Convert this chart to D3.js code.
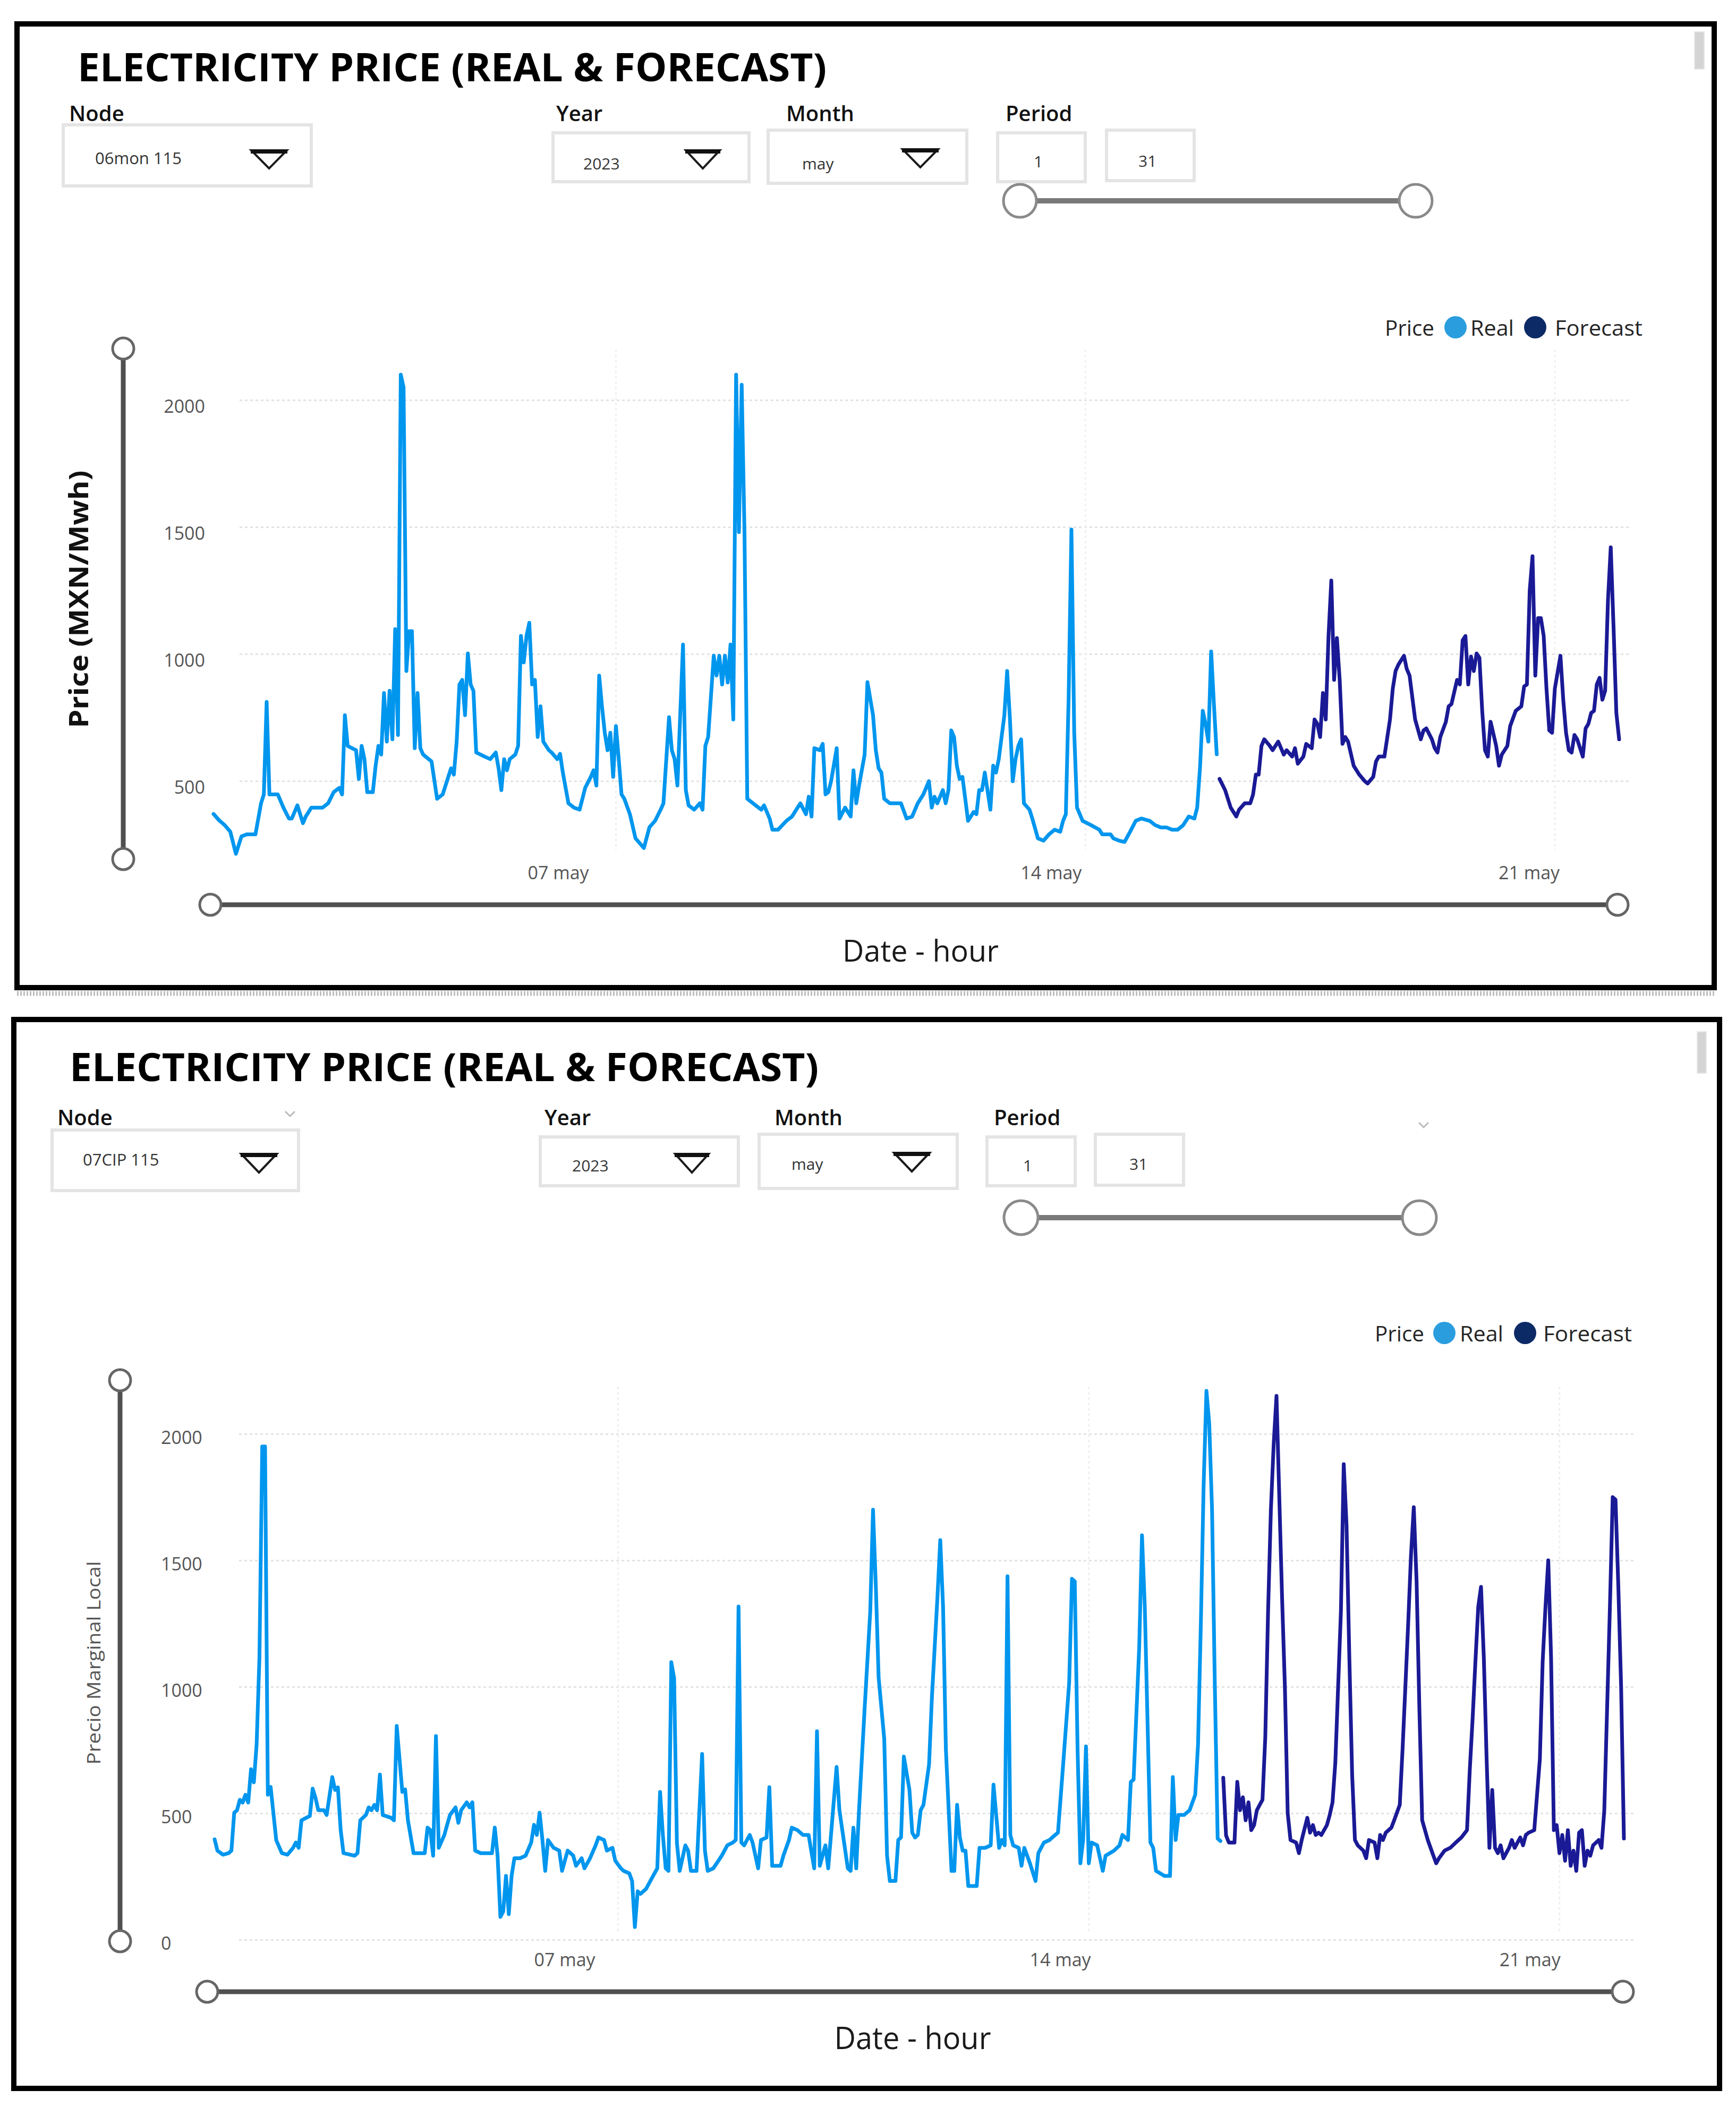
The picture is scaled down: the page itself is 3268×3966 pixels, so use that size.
<!DOCTYPE html>
<html><head><meta charset="utf-8">
<script src="https://cdn.jsdelivr.net/npm/d3@7"></script>
<style>body{margin:0;background:#fff} svg{display:block} text{font-family:"Open Sans",sans-serif}</style>
</head><body>
<svg id="c" width="3268" height="3966"></svg>
<script>
// ---------------- DATA ----------------
const chartTitle = "ELECTRICITY PRICE (REAL & FORECAST)";
const filterLabels = ["Node", "Year", "Month", "Period"];
const nodeNames = ["06mon 115", "07CIP 115"];
const yearValue = "2023";
const monthValue = "may";
const periodFrom = "1";
const periodTo = "31";
const yTicksTop = [500, 1000, 1500, 2000];
const yTicksBottom = [0, 500, 1000, 1500, 2000];
const xTickHours = [144, 312, 480];           // hours since 01 may 00:00
const xTickLabels = ["07 may", "14 may", "21 may"];
const legendLabels = ["Price", "Real", "Forecast"];
const yTitles = ["Price (MXN/Mwh)", "Precio Marginal Local"];
const xTitle = "Date - hour";

// [hour since 01 may 00:00, price MXN/MWh]
const realTop = [[0,370],[2,345],[4,326],[6,300],[8,213],[10,282],[12,290],[15,290],[17,412],[18,447],[19,811],[20,447],[23,447],[25,395],[27,352],[28,352],[30,404],[32,334],[33,360],[35,395],[39,395],[41,412],[43,456],[45,473],[46,447],[47,759],[48,638],[51,621],[52,508],[53,638],[54,586],[55,456],[57,456],[58,560],[59,638],[60,604],[61,846],[62,655],[63,855],[64,664],[65,1098],[66,681],[67,2100],[68,2050],[69,933],[70,1090],[71,1090],[72,629],[73,846],[74,629],[75,604],[78,577],[80,430],[82,447],[84,516],[85,550],[86,525],[87,655],[88,880],[89,898],[90,759],[91,1002],[92,880],[93,855],[94,612],[97,596],[99,586],[101,612],[102,550],[103,464],[104,586],[105,542],[106,586],[108,604],[109,638],[110,1071],[111,967],[112,1071],[113,1123],[114,880],[115,898],[116,673],[117,794],[118,655],[120,621],[121,612],[123,586],[124,607],[125,533],[127,412],[129,395],[131,387],[133,473],[135,516],[136,542],[137,482],[138,915],[139,794],[140,690],[141,621],[142,690],[143,516],[144,716],[145,586],[146,447],[147,430],[149,369],[151,274],[154,236],[156,318],[158,343],[160,387],[161,412],[163,751],[164,621],[165,586],[166,482],[168,1037],[169,464],[170,404],[172,387],[174,412],[175,387],[176,638],[177,673],[179,993],[180,915],[181,993],[182,880],[183,993],[184,888],[185,1037],[186,742],[187,2100],[188,1480],[189,2060],[190,1480],[191,430],[194,404],[196,387],[197,404],[199,352],[200,308],[202,308],[205,343],[207,360],[209,395],[210,412],[212,369],[213,438],[214,360],[215,629],[217,621],[218,646],[219,447],[220,456],[221,499],[223,629],[224,352],[226,395],[228,360],[229,542],[230,412],[231,482],[233,604],[234,889],[236,759],[237,621],[238,550],[239,533],[240,430],[242,412],[246,412],[248,352],[250,360],[252,412],[254,447],[256,499],[257,395],[258,438],[259,412],[261,464],[262,412],[263,464],[264,699],[265,673],[266,560],[267,508],[268,516],[269,430],[270,343],[272,378],[273,369],[274,464],[275,464],[276,533],[278,387],[279,560],[280,533],[281,586],[283,759],[284,933],[285,742],[286,499],[287,586],[288,638],[289,664],[290,412],[292,387],[293,352],[295,274],[297,265],[299,290],[301,308],[303,300],[304,343],[305,369],[306,828],[307,1490],[308,690],[309,395],[311,343],[314,326],[317,308],[318,290],[321,290],[322,274],[324,265],[326,260],[328,300],[330,343],[332,352],[335,343],[337,326],[339,317],[341,317],[343,308],[345,308],[347,326],[349,360],[351,352],[352,395],[353,550],[354,776],[355,724],[356,655],[357,1010],[358,800],[359,605]];
const forecastTop = [[360,508],[362,464],[364,395],[366,360],[367,387],[369,412],[371,412],[372,447],[373,525],[374,525],[375,638],[376,664],[378,638],[379,621],[381,655],[383,604],[384,621],[386,596],[387,629],[388,568],[390,596],[391,646],[393,629],[394,742],[395,725],[396,673],[397,846],[398,742],[399,1071],[400,1289],[401,898],[402,1063],[403,898],[404,646],[405,673],[406,655],[408,560],[410,525],[412,499],[413,490],[415,516],[416,577],[417,596],[419,596],[421,742],[422,864],[423,933],[424,958],[426,993],[427,941],[428,915],[430,742],[432,664],[433,699],[434,707],[436,664],[437,629],[438,612],[439,673],[441,733],[442,794],[443,803],[445,898],[446,880],[447,1054],[448,1071],[449,880],[450,990],[451,933],[452,1002],[453,985],[454,776],[455,621],[456,596],[457,733],[459,638],[460,560],[461,604],[463,638],[464,716],[466,776],[468,794],[469,872],[470,880],[471,1250],[472,1385],[473,915],[474,1141],[475,1141],[476,1071],[477,864],[478,699],[479,690],[480,864],[482,993],[483,820],[484,690],[485,621],[486,612],[487,681],[488,664],[490,596],[491,707],[492,725],[493,768],[494,776],[495,880],[496,906],[497,820],[498,855],[499,1211],[500,1420],[501,1106],[502,768],[503,664]];
const realBottom = [[0,397],[1,352],[3,336],[5,342],[6,352],[7,502],[8,512],[9,553],[10,542],[11,573],[12,542],[13,674],[14,622],[15,773],[16,1116],[17,1950],[18,1950],[19,573],[20,604],[22,393],[24,342],[26,336],[28,363],[29,384],[30,363],[31,472],[34,489],[35,597],[36,561],[37,512],[39,512],[40,493],[42,643],[43,592],[44,602],[45,433],[46,342],[50,332],[51,342],[52,472],[54,493],[55,523],[56,512],[57,533],[58,512],[59,653],[60,493],[63,482],[64,472],[65,845],[66,714],[67,584],[68,594],[69,472],[71,342],[75,342],[76,443],[77,433],[78,332],[79,805],[80,363],[82,414],[83,454],[84,493],[86,523],[87,462],[88,512],[90,543],[91,523],[92,543],[93,352],[95,342],[99,342],[100,443],[101,332],[102,90],[103,111],[104,252],[105,101],[106,252],[107,322],[109,322],[111,332],[113,384],[114,454],[115,414],[116,502],[117,394],[118,272],[119,394],[121,363],[123,352],[124,272],[126,352],[128,332],[129,292],[131,322],[132,282],[134,322],[136,373],[137,404],[139,394],[140,352],[142,363],[143,312],[145,282],[146,272],[148,262],[149,232],[150,50],[151,191],[152,181],[154,201],[156,242],[158,282],[159,584],[160,412],[161,282],[162,272],[163,1097],[164,1034],[165,382],[166,272],[168,373],[169,352],[170,272],[172,272],[174,734],[175,352],[176,272],[178,282],[181,332],[183,373],[185,384],[186,394],[187,1317],[188,384],[189,373],[191,414],[192,384],[194,282],[195,394],[197,404],[198,603],[199,292],[202,292],[203,332],[205,394],[206,443],[208,433],[210,414],[212,414],[214,282],[215,824],[216,292],[218,373],[219,282],[220,414],[222,683],[223,512],[226,282],[227,272],[228,443],[229,282],[230,512],[232,914],[234,1296],[235,1700],[236,1397],[237,1036],[239,794],[240,332],[241,232],[243,232],[244,394],[245,404],[246,724],[248,592],[249,423],[250,404],[251,414],[252,512],[253,533],[255,693],[256,955],[258,1357],[259,1580],[260,1315],[261,754],[263,272],[264,272],[265,533],[266,404],[267,352],[268,352],[269,212],[272,212],[273,363],[275,363],[277,373],[278,613],[280,363],[281,394],[282,373],[283,1437],[284,414],[285,373],[287,363],[288,292],[289,363],[291,302],[293,232],[294,342],[296,384],[298,394],[300,414],[301,423],[303,714],[305,1015],[306,1427],[307,1417],[308,754],[309,302],[310,394],[311,764],[312,302],[313,384],[315,373],[317,272],[318,332],[321,352],[323,373],[324,414],[326,394],[327,624],[328,633],[330,1156],[331,1599],[332,1315],[334,384],[335,363],[336,272],[339,252],[341,252],[342,643],[343,394],[344,493],[346,493],[348,512],[350,573],[351,773],[352,1250],[353,1800],[354,2170],[355,2040],[356,1700],[357,1000],[358,400],[359,390]];
const forecastBottom = [[360,640],[361,412],[362,384],[364,384],[365,624],[366,512],[367,563],[368,472],[369,543],[370,433],[371,453],[372,512],[373,533],[374,553],[375,800],[376,1300],[377,1700],[378,1960],[379,2150],[380,1750],[381,1350],[382,1000],[383,500],[384,394],[386,384],[387,342],[388,394],[390,482],[391,423],[392,453],[393,414],[394,423],[395,414],[397,453],[398,493],[399,543],[400,700],[401,1000],[402,1300],[403,1880],[404,1639],[405,1116],[406,653],[407,394],[408,373],[410,352],[411,322],[412,394],[414,384],[415,322],[416,414],[417,394],[418,423],[420,443],[421,472],[423,533],[424,754],[425,1000],[426,1250],[427,1519],[428,1710],[429,1418],[430,914],[431,472],[433,394],[435,332],[436,302],[437,322],[439,352],[441,363],[443,384],[445,404],[447,433],[448,674],[449,874],[450,1100],[451,1315],[452,1395],[453,1116],[454,714],[455,363],[456,592],[457,363],[458,342],[459,373],[460,322],[462,363],[463,394],[464,363],[466,404],[467,373],[468,414],[469,423],[471,433],[473,714],[474,1100],[475,1315],[476,1500],[477,1116],[478,433],[479,453],[480,342],[481,414],[482,312],[483,433],[484,292],[485,352],[486,272],[487,423],[488,433],[489,292],[490,352],[491,332],[492,373],[494,394],[495,363],[496,512],[497,914],[498,1315],[499,1750],[500,1740],[501,1400],[502,1000],[503,400]];

// ---------------- STYLE / LAYOUT ----------------
const COL_REAL = "#0096ee", COL_FC = "#1a1a96";
const LEG_REAL = "#2a9ddf", LEG_FC = "#0b2a66";

const layouts = [
  { frame:[32,45,3195,1814], title:[146,153,1410], scroll:[3190,60,18,70],
    labelY:228, labelX:[130,1047,1480,1893],
    nodeBox:[119,235,467,115], nodeText:[179,297], nodeArrow:[473,283,67,34],
    yearBox:[1041,250,369,92], yearText:[1098,307], yearArrow:[1291,283,64,34],
    monthBox:[1446,245,374,100], monthText:[1510,307], monthArrow:[1699,281,67,34],
    p1Box:[1878,250,165,92], p1Text:[1946,303], p2Box:[2083,245,165,95], p2Text:[2143,302],
    slider:[1920,2665,378,31],
    xRange:[402,3048], yRange:[1709,753], yTicks:yTicksTop, grid:[451,3068],
    yLabelX:386, yLabelAnchor:"end", yLabelDy:13,
    xLabelY:1643, xLabelDx:[-109,-65,-49], vGrid:[658,1600],
    ySlider:[232,656,1617], xSlider:[1703,396,3045],
    yTitle:{x:147,y:1128,size:50,weight:700,fill:"#111",len:485},
    xTitle:{x:1733,y:1810,size:56,len:294},
    legend:{y:616, price:[2607,93], c1:2740, real:[2768,82], c2:2890, fc:[2927,165]},
    real:realTop, fc:forecastTop, node:nodeNames[0], chev:[] },
  { frame:[26,1919,3211,2012], title:[131,2035,1410], scroll:[3195,1942,17,78],
    labelY:2118, labelX:[108,1025,1458,1871],
    nodeBox:[98,2127,464,114], nodeText:[156,2182], nodeArrow:[454,2172,67,35],
    yearBox:[1017,2140,373,92], yearText:[1077,2193], yearArrow:[1271,2172,63,35],
    monthBox:[1429,2135,373,102], monthText:[1490,2190], monthArrow:[1683,2170,67,35],
    p1Box:[1858,2140,166,92], p1Text:[1926,2193], p2Box:[2062,2135,166,96], p2Text:[2126,2190],
    slider:[1922,2672,2292,32],
    xRange:[404,3057], yRange:[3651,2699], yTicks:yTicksBottom, grid:[450,3080],
    yLabelX:303, yLabelAnchor:"start", yLabelDy:8,
    xLabelY:3689, xLabelDx:[-101,-54,-56], vGrid:[2610,3640],
    ySlider:[226,2598,3654], xSlider:[3749,390,3055],
    yTitle:{x:176,y:3130,size:34,weight:400,fill:"#555",len:383},
    xTitle:{x:1718,y:3857,size:58,len:295},
    legend:{y:2509, price:[2588,93], c1:2719, real:[2748,82], c2:2871, fc:[2905,167]},
    real:realBottom, fc:forecastBottom, node:nodeNames[1], chev:[[546,2097],[2680,2118]] }
];

const svg = d3.select("#c");

function box(g, b) {
  g.append("rect").attr("x", b[0]).attr("y", b[1]).attr("width", b[2]).attr("height", b[3])
    .attr("fill", "#fff").attr("stroke", "#e4e4e4").attr("stroke-width", 6);
}
function arrow(g, a) {
  const [x, y, w, h] = a;
  g.append("path").attr("d", `M${x},${y} L${x + w},${y} L${x + w / 2},${y + h} Z`)
    .attr("fill", "none").attr("stroke", "#1a1a1a").attr("stroke-width", 4).attr("stroke-linejoin", "miter");
  g.append("line").attr("x1", x - 1).attr("x2", x + w + 1).attr("y1", y + 2).attr("y2", y + 2)
    .attr("stroke", "#111").attr("stroke-width", 8);
}
function smallText(g, p, t, size) {
  g.append("text").attr("x", p[0]).attr("y", p[1]).attr("dominant-baseline", "central")
    .attr("font-size", size || 31).attr("fill", "#333").text(t);
}
function knob(g, cx, cy, r, stroke) {
  g.append("circle").attr("cx", cx).attr("cy", cy).attr("r", r)
    .attr("fill", "#fff").attr("stroke", stroke).attr("stroke-width", 5);
}
function legendText(g, p, y, t) {
  g.append("text").attr("x", p[0]).attr("y", y).attr("dominant-baseline", "central")
    .attr("font-size", 40).attr("fill", "#252525")
    .attr("textLength", p[1]).attr("lengthAdjust", "spacingAndGlyphs").text(t);
}

layouts.forEach((L, li) => {
  const g = svg.append("g");
  // frame
  g.append("rect").attr("x", L.frame[0]).attr("y", L.frame[1]).attr("width", L.frame[2]).attr("height", L.frame[3])
    .attr("fill", "#fff").attr("stroke", "#000").attr("stroke-width", 10);
  // scrollbar
  g.append("rect").attr("x", L.scroll[0]).attr("y", L.scroll[1]).attr("width", L.scroll[2]).attr("height", L.scroll[3])
    .attr("fill", "#d4d4d4").attr("stroke", "#e6e6e6").attr("stroke-width", 2);
  // title
  g.append("text").attr("x", L.title[0]).attr("y", L.title[1]).attr("font-size", 74).attr("font-weight", 700)
    .attr("fill", "#000").attr("textLength", L.title[2]).attr("lengthAdjust", "spacingAndGlyphs").text(chartTitle);
  // filter labels
  filterLabels.forEach((t, i) => {
    g.append("text").attr("x", L.labelX[i]).attr("y", L.labelY).attr("font-size", 40).attr("font-weight", 600)
      .attr("fill", "#111").text(t);
  });
  box(g, L.nodeBox); smallText(g, L.nodeText, L.node, 31); arrow(g, L.nodeArrow);
  box(g, L.yearBox); smallText(g, L.yearText, yearValue, 30); arrow(g, L.yearArrow);
  box(g, L.monthBox); smallText(g, L.monthText, monthValue, 30); arrow(g, L.monthArrow);
  box(g, L.p1Box); smallText(g, L.p1Text, periodFrom, 30);
  box(g, L.p2Box); smallText(g, L.p2Text, periodTo, 30);
  L.chev.forEach(c => g.append("path").attr("d", `M${c[0] - 9},${c[1] - 5} L${c[0]},${c[1] + 4} L${c[0] + 9},${c[1] - 5}`)
    .attr("fill", "none").attr("stroke", "#bbb").attr("stroke-width", 3));
  // period slider
  g.append("line").attr("x1", L.slider[0]).attr("x2", L.slider[1]).attr("y1", L.slider[2]).attr("y2", L.slider[2])
    .attr("stroke", "#7a7a7a").attr("stroke-width", 10);
  knob(g, L.slider[0], L.slider[2], L.slider[3], "#8a8a8a");
  knob(g, L.slider[1], L.slider[2], L.slider[3], "#8a8a8a");

  // scales
  const x = d3.scaleLinear().domain([0, 503]).range(L.xRange);
  const y = d3.scaleLinear().domain([0, 2000]).range(L.yRange);

  // horizontal gridlines
  const gg = g.append("g").attr("transform", `translate(${L.grid[0]},0)`)
    .call(d3.axisLeft(y).tickValues(L.yTicks).tickSize(-(L.grid[1] - L.grid[0])).tickFormat(""));
  gg.select(".domain").remove();
  gg.selectAll("line").attr("stroke", "#e3e3e3").attr("stroke-width", 3).attr("stroke-dasharray", "5,5");
  // vertical gridlines at day ticks
  g.append("g").selectAll("line").data(xTickHours).join("line")
    .attr("x1", d => x(d)).attr("x2", d => x(d)).attr("y1", L.vGrid[0]).attr("y2", L.vGrid[1])
    .attr("stroke", "#f0f0f0").attr("stroke-width", 3).attr("stroke-dasharray", "5,5");

  // y tick labels
  const gy = g.append("g").attr("transform", `translate(${L.yLabelX},0)`)
    .call(d3.axisLeft(y).tickValues(L.yTicks).tickSize(0).tickPadding(0).tickFormat(d3.format("d")));
  gy.select(".domain").remove();
  gy.selectAll("text").attr("font-size", 34).attr("fill", "#555").attr("font-family", "Open Sans")
    .attr("text-anchor", L.yLabelAnchor).attr("x", 0)
    .attr("y", L.yLabelDy).attr("dy", "0.32em");
  // x tick labels
  const gx = g.append("g").attr("transform", `translate(0,${L.xLabelY})`)
    .call(d3.axisBottom(x).tickValues(xTickHours).tickFormat((d, i) => xTickLabels[i]).tickSize(0).tickPadding(0));
  gx.select(".domain").remove();
  gx.selectAll("text").attr("font-size", 34).attr("fill", "#555").attr("font-family", "Open Sans")
    .attr("y", 0).attr("dy", "0.35em").attr("dx", (d, i) => L.xLabelDx[i]);

  // lines
  const line = d3.line().x(d => x(d[0])).y(d => y(d[1]));
  g.append("path").datum(L.real).attr("d", line).attr("fill", "none").attr("stroke", COL_REAL)
    .attr("stroke-width", 7).attr("stroke-linejoin", "round").attr("stroke-linecap", "round");
  g.append("path").datum(L.fc).attr("d", line).attr("fill", "none").attr("stroke", COL_FC)
    .attr("stroke-width", 7).attr("stroke-linejoin", "round").attr("stroke-linecap", "round");

  // y range slider
  g.append("line").attr("x1", L.ySlider[0]).attr("x2", L.ySlider[0]).attr("y1", L.ySlider[1]).attr("y2", L.ySlider[2])
    .attr("stroke", "#505050").attr("stroke-width", 9);
  knob(g, L.ySlider[0], L.ySlider[1], 20, "#666");
  knob(g, L.ySlider[0], L.ySlider[2], 20, "#666");
  // x range slider
  g.append("line").attr("x1", L.xSlider[1]).attr("x2", L.xSlider[2]).attr("y1", L.xSlider[0]).attr("y2", L.xSlider[0])
    .attr("stroke", "#505050").attr("stroke-width", 9);
  knob(g, L.xSlider[1], L.xSlider[0], 20, "#666");
  knob(g, L.xSlider[2], L.xSlider[0], 20, "#666");

  // axis titles
  g.append("text").attr("transform", `translate(${L.yTitle.x},${L.yTitle.y}) rotate(-90)`)
    .attr("text-anchor", "middle").attr("dominant-baseline", "central")
    .attr("font-size", L.yTitle.size).attr("font-weight", L.yTitle.weight).attr("fill", L.yTitle.fill)
    .attr("textLength", L.yTitle.len).attr("lengthAdjust", "spacingAndGlyphs")
    .text(yTitles[li]);
  g.append("text").attr("x", L.xTitle.x).attr("y", L.xTitle.y).attr("text-anchor", "middle")
    .attr("font-size", L.xTitle.size).attr("font-weight", 500).attr("fill", "#1a1a1a")
    .attr("textLength", L.xTitle.len).attr("lengthAdjust", "spacingAndGlyphs").text(xTitle);

  // legend
  const lg = L.legend;
  legendText(g, lg.price, lg.y, legendLabels[0]);
  g.append("circle").attr("cx", lg.c1).attr("cy", lg.y).attr("r", 21).attr("fill", LEG_REAL);
  legendText(g, lg.real, lg.y, legendLabels[1]);
  g.append("circle").attr("cx", lg.c2).attr("cy", lg.y).attr("r", 21).attr("fill", LEG_FC);
  legendText(g, lg.fc, lg.y, legendLabels[2]);
});

// dotted separator strip under the first panel
svg.append("line").attr("x1", 32).attr("x2", 3228).attr("y1", 1870).attr("y2", 1870)
  .attr("stroke", "#bdbdbd").attr("stroke-width", 9).attr("stroke-dasharray", "3,3");
</script>
</body></html>
